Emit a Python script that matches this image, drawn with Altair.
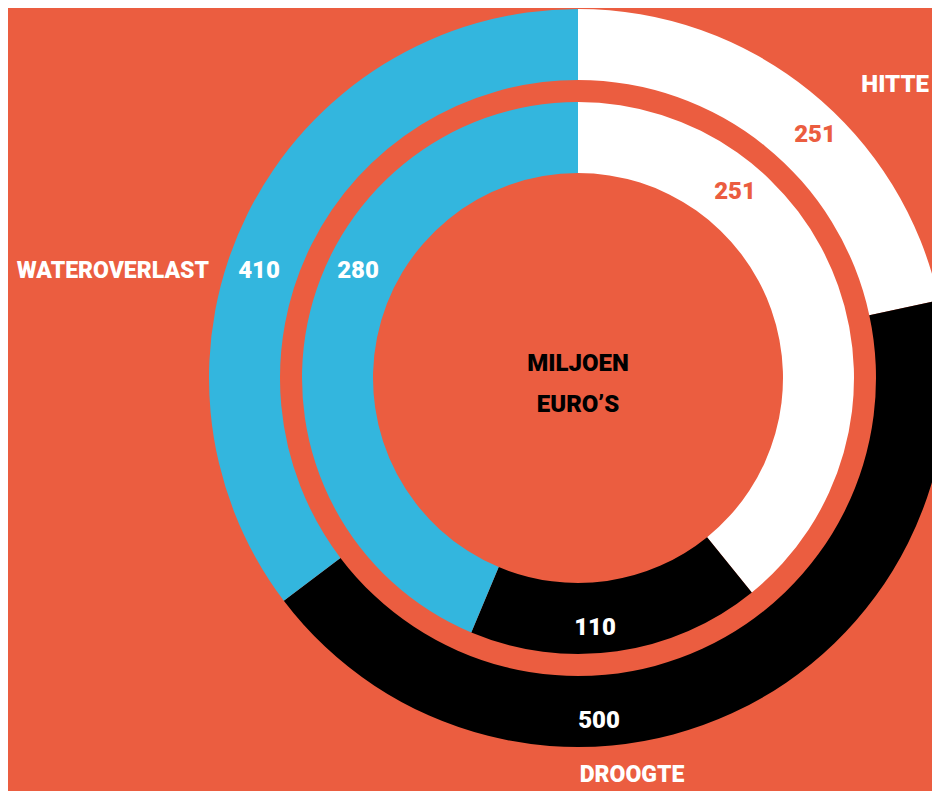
import altair as alt
import pandas as pd

categories = ["Hitte", "Droogte", "Wateroverlast"]
outer_values = [251, 500, 410]
inner_values = [251, 110, 280]
center_text = ["MILJOEN", "EURO’S"]
colors = ["#FFFFFF", "#000000", "#33B6DE"]
BG = "#EB5D40"
FONT = "Roboto, sans-serif"

CX, CY = 570, 370

df_outer = pd.DataFrame({"cat": categories, "value": outer_values, "order": [0, 1, 2]})
df_inner = pd.DataFrame({"cat": categories, "value": inner_values, "order": [0, 1, 2]})

color = alt.Color("cat:N", scale=alt.Scale(domain=categories, range=colors), legend=None)


def ring(df, r_out, r_in):
    return alt.Chart(df).mark_arc(radius=r_out, radius2=r_in, stroke=None).encode(
        theta=alt.Theta("value:Q", stack=True),
        color=color,
        order=alt.Order("order:Q"),
        x=alt.value(CX),
        y=alt.value(CY),
    )


outer = ring(df_outer, 369, 298)
inner = ring(df_inner, 276, 205)


def label(text, x, y, col, align="center", size=24):
    return alt.Chart(pd.DataFrame({"t": [text]})).mark_text(
        font=FONT, fontWeight=900, fontSize=size, color=col,
        align=align, baseline="middle",
    ).encode(text="t:N", x=alt.value(x), y=alt.value(y))


texts = [
    label(categories[0].upper(), 921, 77, "white", align="right"),
    label(str(outer_values[0]), 807, 127, BG),
    label(str(inner_values[0]), 727, 184, BG),
    label(categories[2].upper(), 201, 263, "white", align="right", size=23),
    label(str(outer_values[2]), 251, 263, "white"),
    label(str(inner_values[2]), 350, 263, "white"),
    label(str(inner_values[1]), 587, 620, "white"),
    label(str(outer_values[1]), 591, 713, "white"),
    label(categories[1].upper(), 624, 767, "white", size=23),
    label(center_text[0], 570, 356, "black"),
    label(center_text[1], 570, 397, "black"),
]

rings = alt.layer(outer, inner).resolve_scale(theta="independent")
chart = alt.layer(rings, *texts).properties(
    width=924, height=783, padding=0, autosize=alt.AutoSizeParams(type="none"),
    background=BG,
).configure_view(stroke=None)

chart.save("out.html", embed_options={"renderer": "svg", "actions": False})
